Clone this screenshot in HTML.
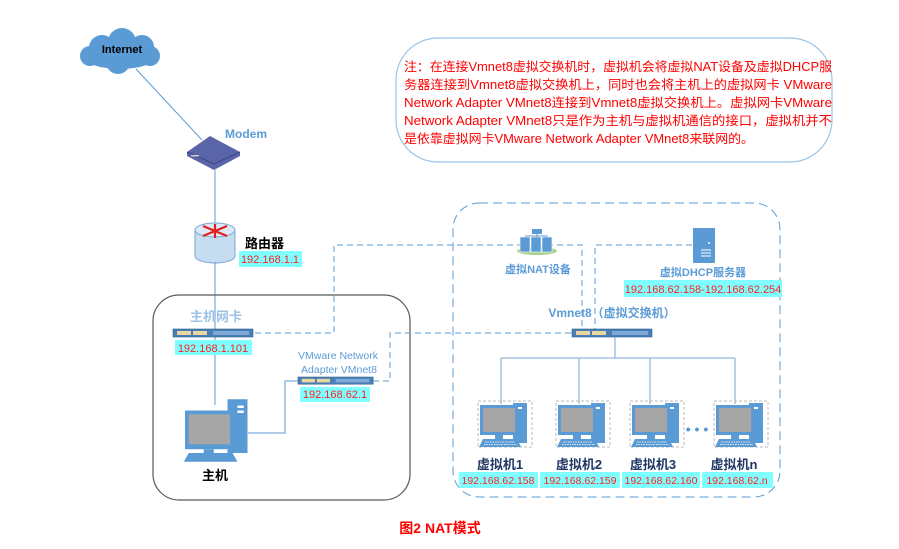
<!DOCTYPE html>
<html><head><meta charset="utf-8">
<style>
html,body{margin:0;padding:0;background:#fff;}
svg{display:block;}
text{font-family:"Liberation Sans","Noto Sans CJK SC",sans-serif;}
</style></head><body>
<svg width="899" height="549" viewBox="0 0 899 549" xmlns="http://www.w3.org/2000/svg">
<defs>
<g id="pc">
  <rect x="-2" y="-4" width="54" height="46" fill="none" stroke="#bbb" stroke-dasharray="3,2"/>
  <rect x="33" y="-2" width="14" height="40" fill="#5b9bd5"/>
  <rect x="36" y="2" width="6" height="2" fill="#fff"/>
  <rect x="0" y="0" width="38" height="30" fill="#5b9bd5"/>
  <rect x="3" y="3" width="32" height="24" fill="#a6a6a6"/>
  <rect x="15" y="30" width="8" height="4" fill="#5b9bd5"/>
  <path d="M3 34 L37 34 L41 42 L-1 42 Z" fill="#5b9bd5"/>
  <path d="M5 37 H35 M4 39.5 H37" stroke="#fff" stroke-width="0.8" stroke-dasharray="1.5,1"/>
</g>
<g id="bar">
  <rect x="0" y="0" width="80" height="8" fill="#4a7fb5" stroke="#2e5f8f" stroke-width="0.6"/>
  <rect x="4" y="2" width="14" height="4" fill="#e8d7a0"/>
  <rect x="20" y="2" width="14" height="4" fill="#e8d7a0"/>
  <rect x="40" y="2" width="36" height="4" fill="#7fa9d6"/>
</g>
</defs>

<!-- Note box -->
<rect x="396" y="38" width="436" height="124" rx="42" fill="#fff" stroke="#9dc3e6" stroke-width="1.2"/>
<g fill="#ff0000" font-size="12.5">
<text x="404" y="71" textLength="428" lengthAdjust="spacingAndGlyphs">注：在连接Vmnet8虚拟交换机时，虚拟机会将虚拟NAT设备及虚拟DHCP服</text>
<text x="404" y="89" textLength="428" lengthAdjust="spacingAndGlyphs">务器连接到Vmnet8虚拟交换机上，同时也会将主机上的虚拟网卡 VMware</text>
<text x="404" y="107" textLength="428" lengthAdjust="spacingAndGlyphs">Network Adapter VMnet8连接到Vmnet8虚拟交换机上。虚拟网卡VMware</text>
<text x="404" y="125" textLength="428" lengthAdjust="spacingAndGlyphs">Network Adapter VMnet8只是作为主机与虚拟机通信的接口，虚拟机并不</text>
<text x="404" y="143" textLength="350" lengthAdjust="spacingAndGlyphs">是依靠虚拟网卡VMware Network Adapter VMnet8来联网的。</text>
</g>

<!-- Internet cloud -->
<g fill="#5b9bd5">
<ellipse cx="120" cy="55" rx="38" ry="14"/>
<circle cx="102" cy="48" r="13"/><circle cx="122" cy="42" r="14"/><circle cx="142" cy="47" r="12"/>
<circle cx="90" cy="56" r="10"/><circle cx="150" cy="56" r="10"/><circle cx="118" cy="62" r="12"/>
</g>
<text x="122" y="53" font-size="11" font-weight="bold" text-anchor="middle" fill="#000">Internet</text>
<line x1="136" y1="69" x2="202" y2="140" stroke="#5b9bd5" stroke-width="1"/>
<!-- Modem -->
<path d="M187 152 L210 136 L240 152 L240 156 L214 170 L187 156 Z" fill="#5a64a8"/>
<path d="M187 152 L214 164 L240 152" fill="none" stroke="#3d4583" stroke-width="1"/>
<rect x="191" y="155" width="8" height="1.5" fill="#ccc"/>
<text x="225" y="138" font-size="12" font-weight="bold" fill="#5b9bd5">Modem</text>
<line x1="215" y1="170" x2="215" y2="225" stroke="#5b9bd5"/>
<!-- Router -->
<path d="M195 230 V256 A20 7 0 0 0 235 256 V230 Z" fill="#c6dcf0" stroke="#7aa6d2"/>
<ellipse cx="215" cy="230" rx="20" ry="7" fill="#dde9f6" stroke="#7aa6d2"/>
<path d="M203 226 L227 236 M227 226 L203 236 M215 224 L215 238" stroke="#e02020" stroke-width="2.2"/>
<text x="245" y="248" font-size="13" font-weight="bold" fill="#000">路由器</text>
<rect x="239" y="251" width="63" height="16" fill="#80ffff"/>
<text x="270" y="263" font-size="11" fill="#ff2020" text-anchor="middle">192.168.1.1</text>
<line x1="215" y1="262" x2="215" y2="405" stroke="#5b9bd5"/>

<!-- Host box -->
<rect x="153" y="295" width="257" height="205" rx="26" fill="none" stroke="#595959" stroke-width="1.2"/>
<text x="190" y="321" font-size="13" font-weight="bold" fill="#9dc3e6">主机网卡</text>
<use href="#bar" x="173" y="329"/>
<rect x="175" y="340" width="77" height="15" fill="#80ffff"/>
<text x="213" y="352" font-size="11" fill="#ff2020" text-anchor="middle">192.168.1.101</text>
<!-- host pc -->
<g transform="translate(185,403) scale(1.25)">
  <rect x="34" y="-3" width="16" height="43" fill="#5b9bd5"/>
  <rect x="42" y="2" width="5" height="2" fill="#fff"/><rect x="42" y="6" width="5" height="2" fill="#fff"/>
  <rect x="0" y="6" width="39" height="31" fill="#5b9bd5"/>
  <rect x="3" y="9" width="33" height="24" fill="#a6a6a6"/>
  <rect x="15" y="37" width="8" height="3" fill="#5b9bd5"/>
  <path d="M3 40 L38 40 L42 47 L-1 47 Z" fill="#5b9bd5"/>
</g>
<text x="215" y="480" font-size="13" font-weight="bold" fill="#000" text-anchor="middle">主机</text>
<polyline points="248,433 285,433 285,381 298,381" fill="none" stroke="#5b9bd5"/>
<text x="338" y="359" font-size="10.5" fill="#5b9bd5" text-anchor="middle">VMware Network</text>
<text x="339" y="373" font-size="10.5" fill="#5b9bd5" text-anchor="middle">Adapter VMnet8</text>
<g transform="translate(298,377) scale(0.94,0.9)"><use href="#bar"/></g>
<rect x="300" y="387" width="70" height="15" fill="#80ffff"/>
<text x="335" y="398" font-size="11" fill="#ff2020" text-anchor="middle">192.168.62.1</text>

<!-- dashed links -->
<g fill="none" stroke="#5b9bd5" stroke-dasharray="6,4" stroke-width="1">
<polyline points="255,333 334,333 334,245 582,245 582,333"/>
<polyline points="373,381 390,381 390,333 572,333"/>
<polyline points="692,245 595,245 595,330"/>
</g>

<!-- VM box -->
<rect x="453" y="203" width="327" height="294" rx="26" fill="none" stroke="#5b9bd5" stroke-dasharray="9,5" stroke-width="1"/>
<!-- NAT device -->
<ellipse cx="537" cy="251" rx="20" ry="4" fill="#a9d18e"/>
<rect x="520" y="237" width="10" height="15" fill="#5b9bd5" stroke="#fff" stroke-width="0.6"/>
<rect x="531" y="237" width="10" height="15" fill="#5b9bd5" stroke="#fff" stroke-width="0.6"/>
<rect x="542" y="237" width="10" height="15" fill="#5b9bd5" stroke="#fff" stroke-width="0.6"/>
<rect x="532" y="229" width="10" height="5" fill="#5b9bd5"/>
<path d="M537 234 V237 M525 236 H548" stroke="#5b9bd5"/>
<text x="538" y="273" font-size="11" font-weight="bold" fill="#5b9bd5" text-anchor="middle">虚拟NAT设备</text>
<!-- DHCP -->
<rect x="693" y="228" width="22" height="35" fill="#5b9bd5"/>
<circle cx="709" cy="243" r="1" fill="#fff"/>
<path d="M701 250 H711 M701 253 H711 M701 256 H711" stroke="#fff" stroke-width="1"/>
<text x="703" y="276" font-size="11" font-weight="bold" fill="#5b9bd5" text-anchor="middle">虚拟DHCP服务器</text>
<rect x="624" y="280" width="158" height="17" fill="#80ffff"/>
<text x="703" y="293" font-size="11" fill="#ff2020" text-anchor="middle">192.168.62.158-192.168.62.254</text>
<!-- switch -->
<text x="612" y="317" font-size="12" font-weight="bold" fill="#5b9bd5" text-anchor="middle">Vmnet8（虚拟交换机）</text>
<use href="#bar" x="572" y="329"/>
<g fill="none" stroke="#7aa6d2">
<line x1="615" y1="337" x2="615" y2="358"/>
<line x1="501" y1="358" x2="735" y2="358"/>
<line x1="501" y1="358" x2="501" y2="404"/>
<line x1="579" y1="358" x2="579" y2="404"/>
<line x1="650" y1="358" x2="650" y2="404"/>
<line x1="735" y1="358" x2="735" y2="404"/>
</g>
<use href="#pc" x="480" y="405"/>
<use href="#pc" x="558" y="405"/>
<use href="#pc" x="632" y="405"/>
<use href="#pc" x="716" y="405"/>
<text x="697" y="434" font-size="14" font-weight="bold" fill="#5b9bd5" text-anchor="middle">• • •</text>
<g font-size="13" font-weight="bold" fill="#1f3864" text-anchor="middle">
<text x="500" y="469">虚拟机1</text>
<text x="579" y="469">虚拟机2</text>
<text x="653" y="469">虚拟机3</text>
<text x="734" y="469">虚拟机n</text>
</g>
<rect x="459" y="472" width="79" height="16" fill="#80ffff"/>
<rect x="540" y="472" width="80" height="16" fill="#80ffff"/>
<rect x="622" y="472" width="78" height="16" fill="#80ffff"/>
<rect x="702" y="472" width="71" height="16" fill="#80ffff"/>
<g font-size="10.5" fill="#ff2020" text-anchor="middle">
<text x="498" y="484">192.168.62.158</text>
<text x="580" y="484">192.168.62.159</text>
<text x="661" y="484">192.168.62.160</text>
<text x="737" y="484">192.168.62.n</text>
</g>
<text x="440" y="533" font-size="14" font-weight="bold" fill="#ff0000" text-anchor="middle" font-family="Liberation Serif, Noto Serif CJK SC, serif">图2  NAT模式</text>
</svg>
</body></html>
